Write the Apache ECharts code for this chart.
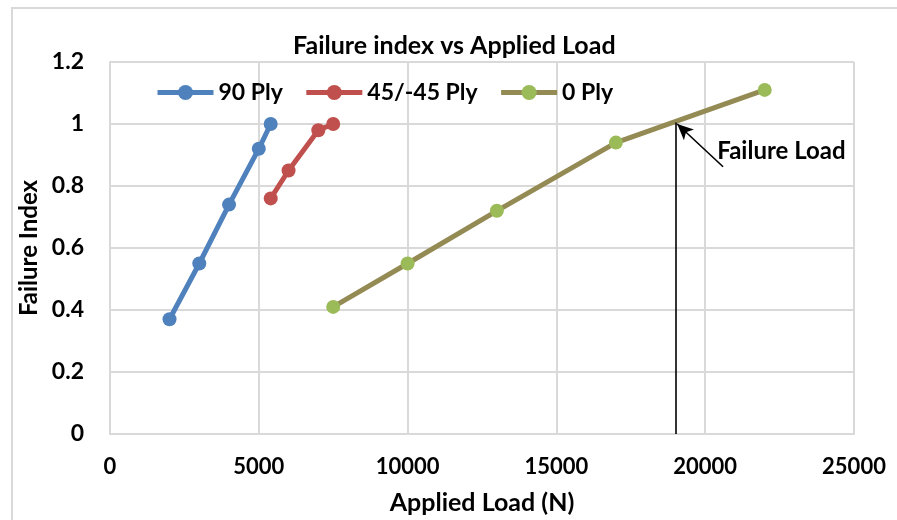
<!DOCTYPE html>
<html>
<head>
<meta charset="utf-8">
<title>Failure index vs Applied Load</title>
<script src="https://cdn.jsdelivr.net/npm/echarts@6/dist/echarts.min.js"></script>
<style>
  html, body { margin: 0; padding: 0; background: #fff; }
  #chart { width: 897px; height: 520px; }
</style>
</head>
<body>
<div id="chart"></div>
<script>
// data: [applied load (N), failure index]
var ply90 = [[2000, 0.37], [3000, 0.55], [4000, 0.74], [5000, 0.92], [5400, 1.0]];
var ply45 = [[5400, 0.76], [6000, 0.85], [7000, 0.98], [7500, 1.0]];
var ply0 = [[7500, 0.41], [10000, 0.55], [13000, 0.72], [17000, 0.94], [22000, 1.11]];
var seriesNames = ['90 Ply', '45/-45 Ply', '0 Ply'];

// annotation: failure load line and arrow (data coords)
var failureLine = [[19000, 0], [19000, 1.005]];
var failureArrow = [[20600, 0.862], [19060, 1.0]];
var failureLabelAt = [22560, 0.911];

var FONT = 'Lato';
var chart = echarts.init(document.getElementById('chart'));

function lineSeries(name, data, lineColor, markerColor) {
  return {
    name: name,
    type: 'line',
    data: data,
    symbol: 'circle',
    symbolSize: 14,
    lineStyle: { color: lineColor, width: 5 },
    itemStyle: { color: markerColor, borderWidth: 0 },
    emphasis: { disabled: true },
    z: 3
  };
}

var green = lineSeries(seriesNames[2], ply0, '#948A54', '#9BBB59');
green.markLine = {
  silent: true,
  animation: false,
  symbol: 'none',
  label: { show: false },
  lineStyle: { color: '#000', width: 1.6, type: 'solid' },
  data: [
    [{ coord: failureLine[0], symbol: 'none' }, { coord: failureLine[1], symbol: 'none' }],
    [{ coord: failureArrow[0], symbol: 'none' }, { coord: failureArrow[1], symbol: 'arrow', symbolSize: [11, 16] }]
  ]
};
green.markPoint = {
  silent: true,
  animation: false,
  symbolSize: 0,
  data: [{ coord: failureLabelAt }],
  label: {
    show: true,
    position: 'inside',
    formatter: 'Failure Load',
    color: '#000',
    fontFamily: FONT,
    fontWeight: 'bold',
    fontSize: 24
  }
};

var option = {
  animation: false,
  backgroundColor: '#fff',
  textStyle: { fontFamily: FONT },
  title: {
    text: 'Failure index vs Applied Load',
    left: 293,
    top: 33,
    padding: 0,
    textStyle: { fontFamily: FONT, fontWeight: 'bold', fontSize: 25, color: '#000' }
  },
  legend: {
    data: seriesNames,
    left: 155,
    top: 81,
    padding: 0,
    itemWidth: 56,
    itemHeight: 19,
    itemGap: 21,
    lineStyle: { width: 5 },
    textStyle: { fontFamily: FONT, fontWeight: 'bold', fontSize: 23, color: '#000' }
  },
  grid: { left: 110, right: 43, top: 62, bottom: 85 },
  xAxis: {
    type: 'value',
    min: 0,
    max: 25000,
    interval: 5000,
    name: 'Applied Load (N)',
    nameLocation: 'middle',
    nameGap: 56,
    nameTextStyle: { fontFamily: FONT, fontWeight: 'bold', fontSize: 25, color: '#000' },
    axisLine: { show: true, lineStyle: { color: '#d9d9d9', width: 2 } },
    axisTick: { show: false },
    axisLabel: {
      margin: 22, fontFamily: FONT, fontWeight: 'bold', fontSize: 22, color: '#000',
      formatter: function (v) { return String(v); }
    },
    splitLine: { show: true, lineStyle: { color: '#d9d9d9', width: 2 } }
  },
  yAxis: {
    type: 'value',
    min: 0,
    max: 1.2,
    interval: 0.2,
    name: 'Failure Index',
    nameLocation: 'middle',
    nameGap: 64,
    nameTextStyle: { fontFamily: FONT, fontWeight: 'bold', fontSize: 24, color: '#000' },
    axisLine: { show: true, lineStyle: { color: '#d9d9d9', width: 2 } },
    axisTick: { show: false },
    axisLabel: { margin: 26, fontFamily: FONT, fontWeight: 'bold', fontSize: 23, color: '#000' },
    splitLine: { show: true, lineStyle: { color: '#d9d9d9', width: 2 } }
  },
  graphic: [{
    type: 'rect',
    silent: true,
    shape: { x: 12, y: 8, width: 900, height: 530 },
    style: { fill: 'none', stroke: '#d9d9d9', lineWidth: 2 },
    z: -1
  }],
  series: [
    lineSeries(seriesNames[0], ply90, '#4F81BD', '#4F81BD'),
    lineSeries(seriesNames[1], ply45, '#C0504D', '#C0504D'),
    green
  ]
};

option && chart.setOption(option);
</script>
</body>
</html>
